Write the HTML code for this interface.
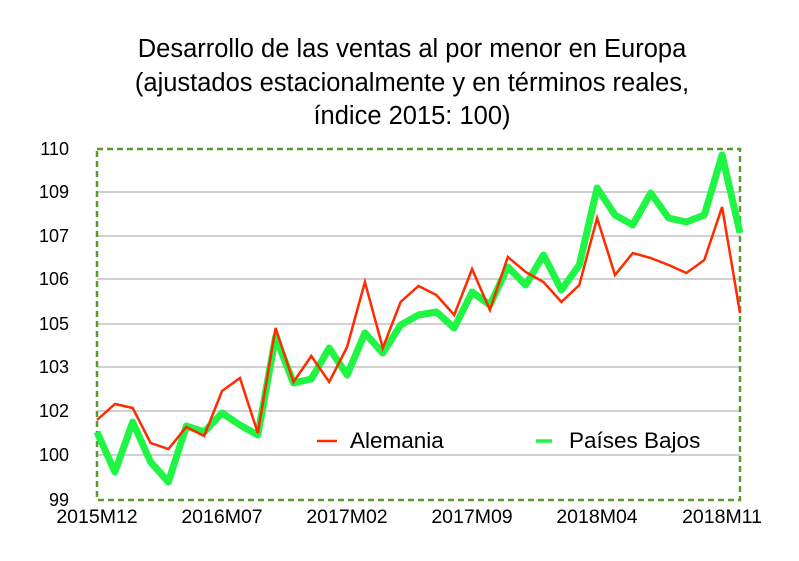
<!DOCTYPE html>
<html><head><meta charset="utf-8"><style>
body{margin:0;background:#fff;}
svg{display:block;font-family:"Liberation Sans",sans-serif;}
</style></head><body>
<svg width="799" height="561" viewBox="0 0 799 561" xmlns="http://www.w3.org/2000/svg">
<rect width="799" height="561" fill="#fff"/>
<g font-size="25.5" text-anchor="middle" fill="#000">
<text x="412" y="57">Desarrollo de las ventas al por menor en Europa</text>
<text x="412" y="91">(ajustados estacionalmente y en términos reales,</text>
<text x="412" y="124">índice 2015: 100)</text>
</g>
<g stroke="#b3b3b3" stroke-width="1.3">
<line x1="97" x2="740" y1="192" y2="192"/>
<line x1="97" x2="740" y1="236" y2="236"/>
<line x1="97" x2="740" y1="279" y2="279"/>
<line x1="97" x2="740" y1="324" y2="324"/>
<line x1="97" x2="740" y1="367" y2="367"/>
<line x1="97" x2="740" y1="411" y2="411"/>
<line x1="97" x2="740" y1="455" y2="455"/>
</g>
<rect x="97" y="149" width="643" height="351" fill="none" stroke="#5a9a2e" stroke-width="2.5" stroke-dasharray="6,4"/>
<g font-size="18" text-anchor="end" fill="#000">
<text x="69" y="155">110</text>
<text x="69" y="198">109</text>
<text x="69" y="242">107</text>
<text x="69" y="285">106</text>
<text x="69" y="330">105</text>
<text x="69" y="373">103</text>
<text x="69" y="417">102</text>
<text x="69" y="461">100</text>
<text x="69" y="506">99</text>
</g>
<g font-size="19.5" text-anchor="middle" fill="#000">
<text x="97" y="523">2015M12</text>
<text x="222" y="523">2016M07</text>
<text x="347" y="523">2017M02</text>
<text x="472" y="523">2017M09</text>
<text x="597" y="523">2018M04</text>
<text x="722" y="523">2018M11</text>
</g>
<polyline id="g" fill="none" stroke="#1ff545" stroke-width="7" stroke-linejoin="round"/>
<polyline id="r" fill="none" stroke="#ff2a00" stroke-width="2.5"/>
<line x1="317" x2="337" y1="441" y2="441" stroke="#ff2a00" stroke-width="2.5"/>
<text x="350" y="448" font-size="22.5">Alemania</text>
<line x1="536" x2="552" y1="441" y2="441" stroke="#1ff545" stroke-width="3.5"/>
<text x="569" y="448" font-size="22.5">Países Bajos</text>
<script>
var r=[420,404,408,443,449,427,436,391,378,433,328,382,356,382,347,282,348,302,286,295,315,269,310,257,272,282,302,285,218,275,253,258,265,273,260,207,313];
var g=[432,472,422,462,482,426,432,413,425,435,337,383,379,348,375,333,353,325,315,312,328,292,305,267,285,255,290,265,188,215,225,193,218,222,215,155,233];
function p(a){return a.map(function(y,i){return (97+i*643/36).toFixed(1)+","+y}).join(" ");}
document.getElementById("r").setAttribute("points",p(r));
document.getElementById("g").setAttribute("points",p(g));
</script>
</svg>
</body></html>
